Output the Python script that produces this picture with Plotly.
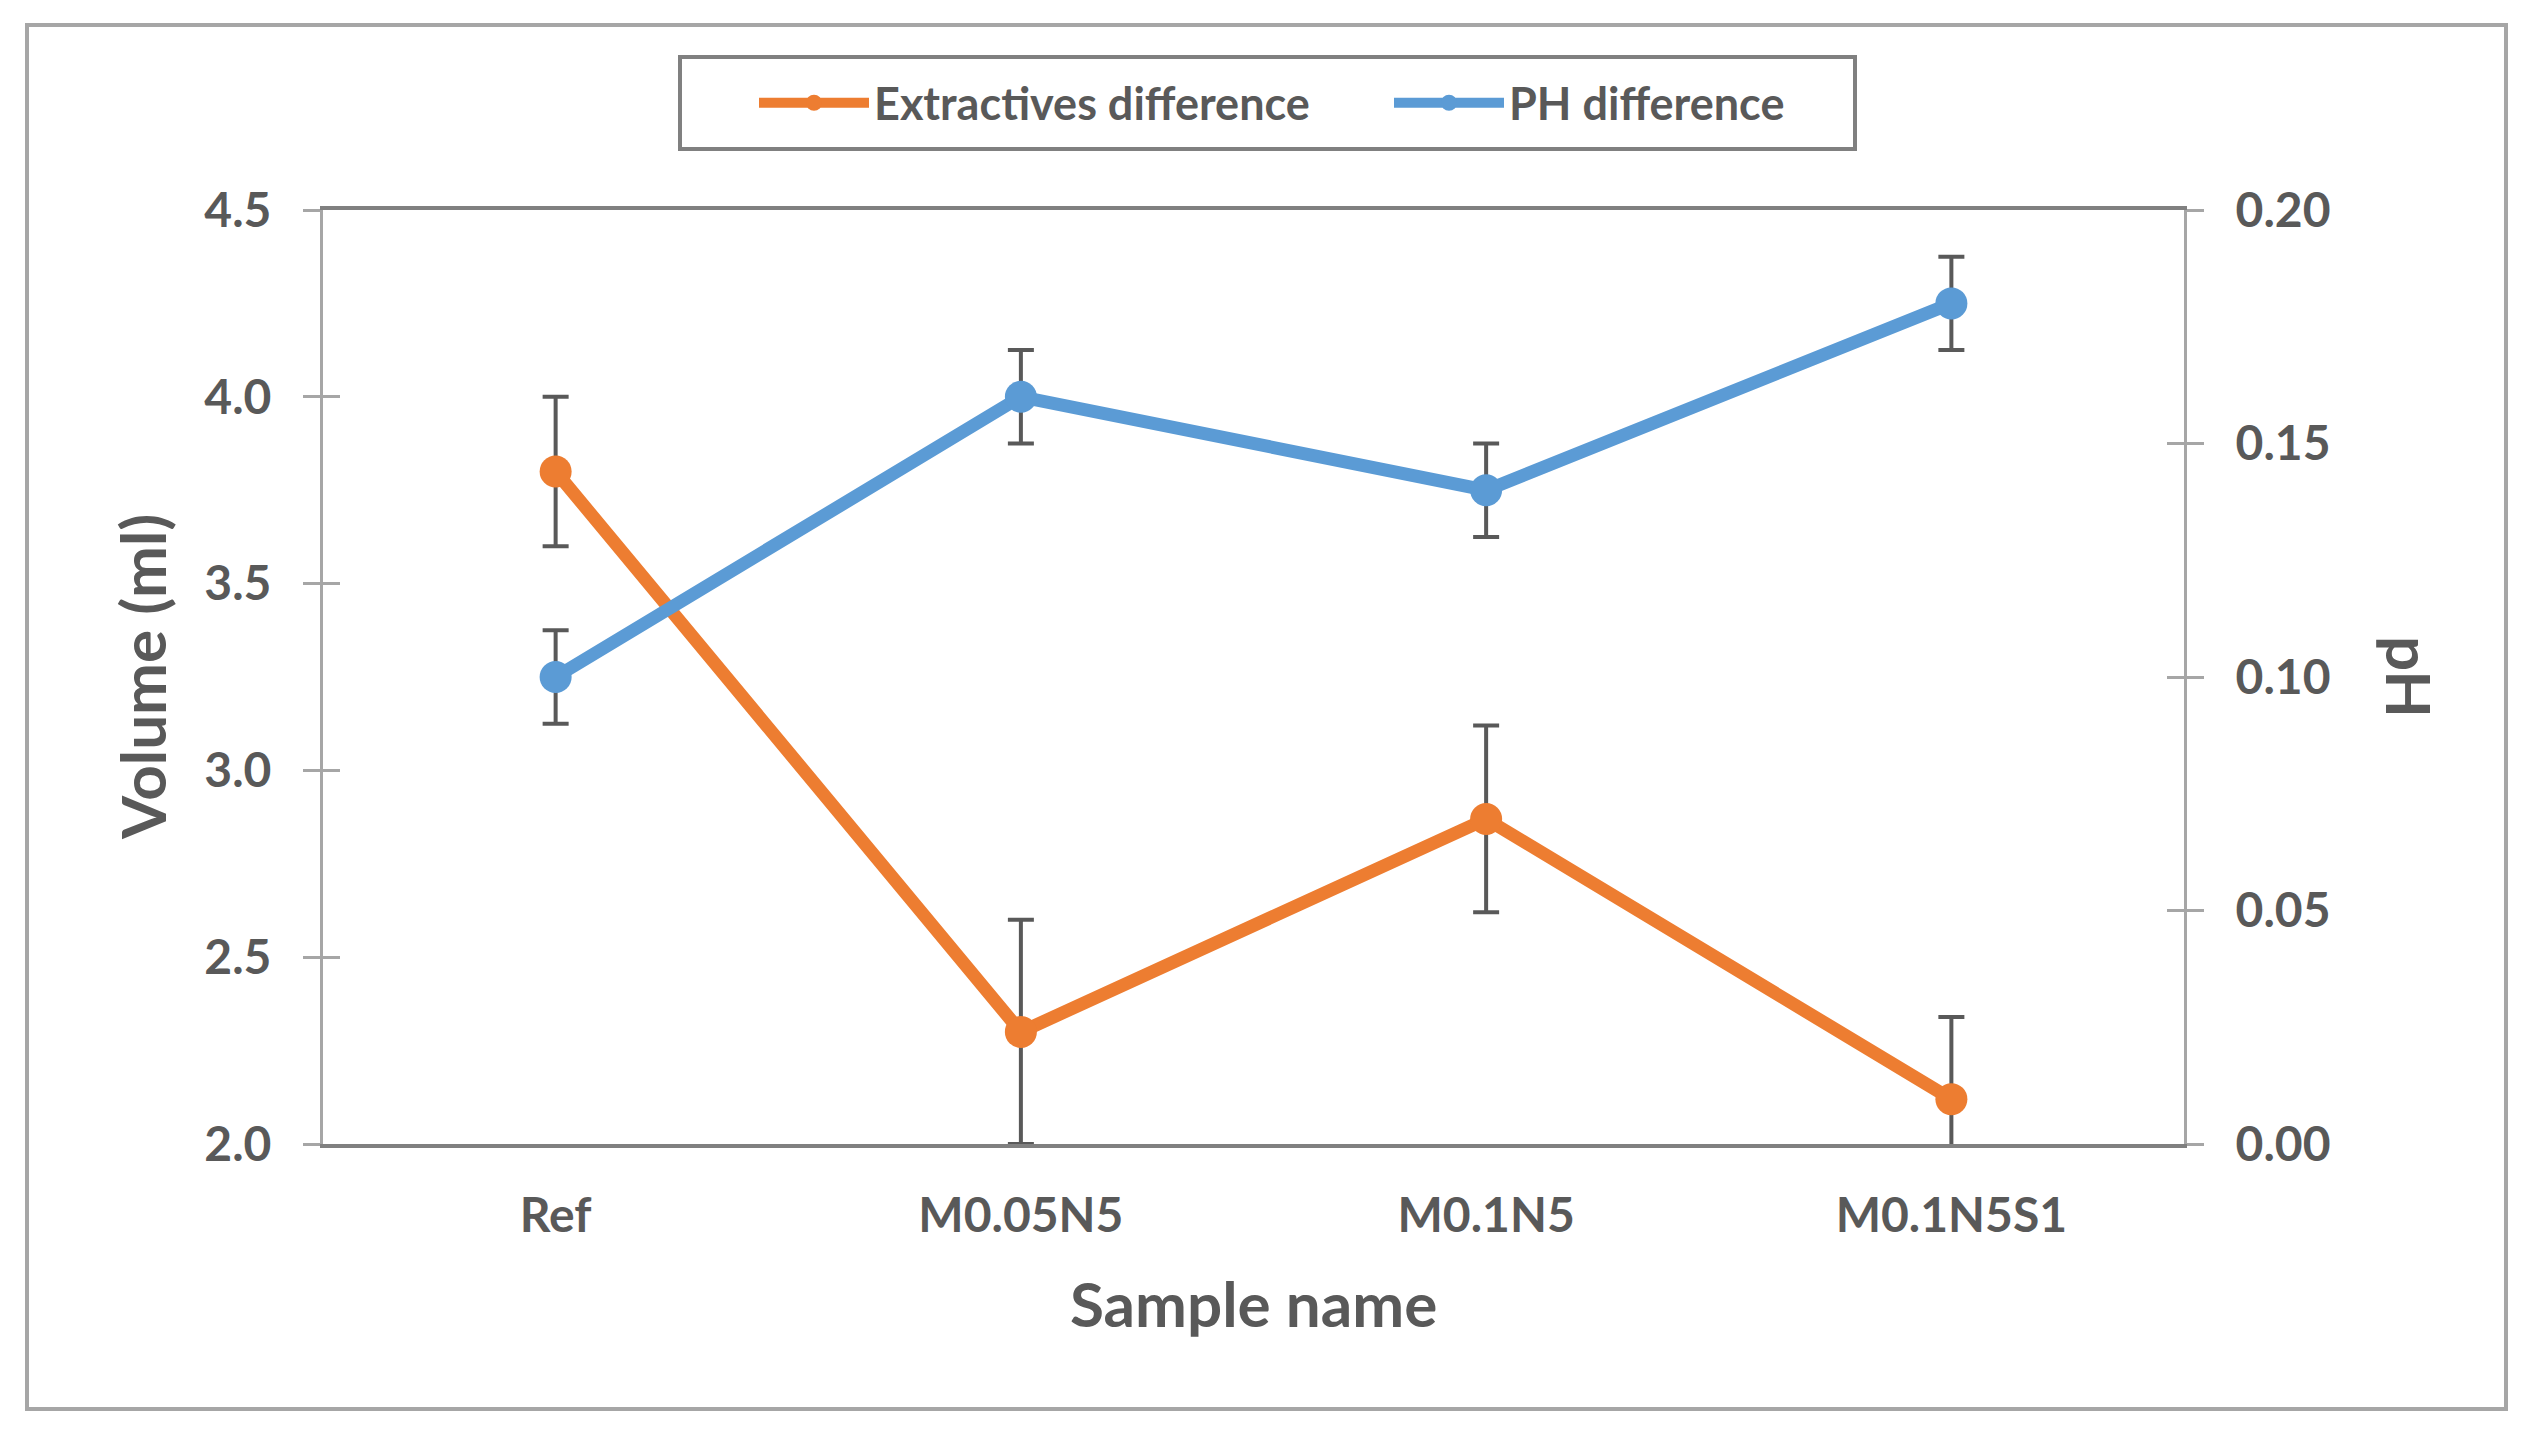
import plotly.graph_objects as go

categories = ["Ref", "M0.05N5", "M0.1N5", "M0.1N5S1"]
extractives = [3.80, 2.30, 2.87, 2.12]
extractives_err = [0.20, 0.30, 0.25, 0.22]
ph_diff = [0.100, 0.160, 0.140, 0.180]
ph_err = [0.010, 0.010, 0.010, 0.010]

TXT = "#595959"
FONT = "Lato"
W, H = 2530, 1433
L, R, T, B = 323, 2184, 210, 1144

def px_x(p):
    return (p - L) / (R - L)

def px_y(p):
    return (B - p) / (B - T)

fig = go.Figure()
fig.add_trace(go.Scatter(
    x=categories, y=extractives, name="Extractives difference",
    mode="lines+markers",
    line=dict(color="#ED7D31", width=13),
    marker=dict(color="#ED7D31", size=32),
    error_y=dict(type="data", array=extractives_err, visible=True,
                 color="#595959", thickness=4, width=13),
    yaxis="y",
))
fig.add_trace(go.Scatter(
    x=categories, y=ph_diff, name="PH difference",
    mode="lines+markers",
    line=dict(color="#5B9BD5", width=13),
    marker=dict(color="#5B9BD5", size=32),
    error_y=dict(type="data", array=ph_err, visible=True,
                 color="#595959", thickness=4, width=13),
    yaxis="y2",
))

tickfont = dict(family=FONT, size=48, color=TXT, weight="bold")
common_y = dict(showgrid=False, zeroline=False, ticks="outside", ticklen=17,
                tickwidth=3, tickcolor="#A6A6A6", showline=True,
                linecolor="#A6A6A6", linewidth=3, tickfont=tickfont,
                ticklabelstandoff=22)
titlefont = dict(family=FONT, size=62, color=TXT, weight="bold")

fig.update_layout(
    width=W, height=H,
    margin=dict(l=L, r=W - R, t=T, b=H - B, autoexpand=False),
    paper_bgcolor="white", plot_bgcolor="white",
    showlegend=True,
    xaxis=dict(
        type="category", range=[-0.5, 3.5], showgrid=False, zeroline=False,
        showline=True, linecolor="#808080", linewidth=4, mirror=True,
        ticks="", tickfont=tickfont, ticklabelstandoff=26,
    ),
    yaxis=dict(range=[2.0, 4.5], dtick=0.5, tickformat=".1f", side="left",
               **common_y),
    yaxis2=dict(range=[0.0, 0.20], dtick=0.05, tickformat=".2f",
                side="right", overlaying="y", **common_y),
    yaxis3=dict(range=[2.0, 4.5], dtick=0.5, side="left", overlaying="y",
                showgrid=False, zeroline=False, showline=False,
                ticks="inside", ticklen=17, tickwidth=3,
                tickcolor="#A6A6A6", showticklabels=False),
    yaxis4=dict(range=[0.0, 0.20], dtick=0.05, side="right", overlaying="y",
                showgrid=False, zeroline=False, showline=False,
                ticks="inside", ticklen=17, tickwidth=3,
                tickcolor="#A6A6A6", showticklabels=False),
    legend=dict(
        orientation="h", x=px_x(754), xanchor="left",
        y=px_y(103), yanchor="middle",
        borderwidth=0, bgcolor="rgba(0,0,0,0)",
        font=dict(family=FONT, size=45, color=TXT, weight="bold"),
        itemwidth=110,
        entrywidth=510, entrywidthmode="pixels",
    ),
    annotations=[
        dict(text="Volume (ml)", xref="paper", yref="paper",
             x=px_x(142), y=0.5, xanchor="center", yanchor="middle",
             textangle=-90, showarrow=False, font=titlefont),
        dict(text="pH", xref="paper", yref="paper",
             x=px_x(2410), y=0.5, xanchor="center", yanchor="middle",
             textangle=90, showarrow=False, font=titlefont),
        dict(text="Sample name", xref="paper", yref="paper",
             x=0.5, y=px_y(1303), xanchor="center", yanchor="middle",
             showarrow=False, font=titlefont),
    ],
    shapes=[
        dict(type="rect", xref="paper", yref="paper",
             x0=px_x(27), x1=px_x(2506), y0=px_y(1409), y1=px_y(25),
             line=dict(color="#A6A6A6", width=4), layer="below"),
        dict(type="rect", xref="paper", yref="paper",
             x0=px_x(680), x1=px_x(1855), y0=px_y(149), y1=px_y(57),
             line=dict(color="#808080", width=4), layer="below"),
    ],
)

# dummy traces to activate the tick-only overlay axes
fig.add_trace(go.Scatter(x=[], y=[], yaxis="y3", showlegend=False, hoverinfo="skip"))
fig.add_trace(go.Scatter(x=[], y=[], yaxis="y4", showlegend=False, hoverinfo="skip"))

fig.write_html("out.html", config={"displayModeBar": False},
               post_script="document.body.style.margin='0';document.body.style.overflow='hidden';")
